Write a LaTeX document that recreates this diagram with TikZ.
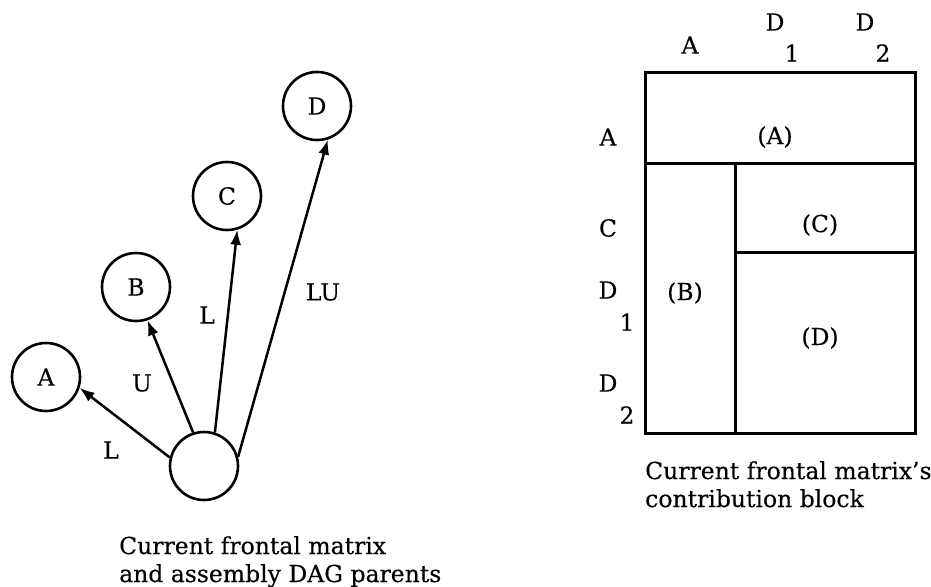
\documentclass[tikz,border=0pt]{standalone}
\usepackage{fontspec}
\setmainfont{DejaVu Serif}[FakeBold=0.25]
\usepackage{tikz}
\usetikzlibrary{arrows.meta,positioning,calc}
\tikzset{
  txt/.style={font=\fontsize{23.5}{28}\selectfont, inner sep=0pt},
  parent/.style={circle, draw, line width=2.6pt, minimum size=68pt, inner sep=0pt,
                 font=\fontsize{23.5}{28}\selectfont},
  arr/.style={-{Latex[length=15pt,width=11pt]}, line width=2.5pt},
  blk/.style={line width=3pt},
}

\begin{document}
\begin{tikzpicture}[x=1pt, y=-1pt]
  \useasboundingbox (0,0) rectangle (931,586);
  % assembly DAG
  \node[parent] (cur) at (204,466) {};
  \node[parent] (pA) at (46,377) {A};
  \node[parent] (pB) at (136,287) {B};
  \node[parent] (pC) at (227,196) {C};
  \node[parent] (pD) at (317,106) {D};
  \draw[arr] (cur.166) -- (pA.-18);
  \draw[arr] (cur.108) -- (pB.-71);
  \draw[arr] (cur.72) -- (pC.-73);
  \draw[arr] (cur.15) -- (pD.-72);
  \node[txt] (eA) at (111,450) {L};
  \node[txt] (eB) at (142,383) {U};
  \node[txt] (eC) at (207,315) {L};
  \node[txt] (eD) at (323,292) {LU};
  \node[txt, align=left, anchor=north west] (capL) at (119,536)
    {Current frontal matrix\\and assembly DAG parents};

  % contribution block
  \draw[blk] (645,72) rectangle (915,433);
  \draw[blk] (645,163) -- (915,163);
  \draw[blk] (735,163) -- (735,433);
  \draw[blk] (735,252) -- (915,252);
  \node[txt] (bA) at (775,137) {(A)};
  \node[txt] (bB) at (685,293) {(B)};
  \node[txt] (bC) at (820,225) {(C)};
  \node[txt] (bD) at (820,338) {(D)};
  % row labels
  \node[txt] (rA) at (608,137) {A};
  \node[txt] (rC) at (608,228) {C};
  \node[txt] (rD1) at (608,290) {D};
  \node[txt] (rD1s) at (627,322) {1};
  \node[txt] (rD2) at (608,383) {D};
  \node[txt] (rD2s) at (627,415) {2};
  % column labels
  \node[txt] (cA) at (690,45) {A};
  \node[txt] (cD1) at (775,22) {D};
  \node[txt] (cD1s) at (792,53) {1};
  \node[txt] (cD2) at (865,22) {D};
  \node[txt] (cD2s) at (883,53) {2};
  \node[txt, align=left, anchor=north west] (capR) at (645,461)
    {Current frontal matrix's\\contribution block};
\end{tikzpicture}
\end{document}
